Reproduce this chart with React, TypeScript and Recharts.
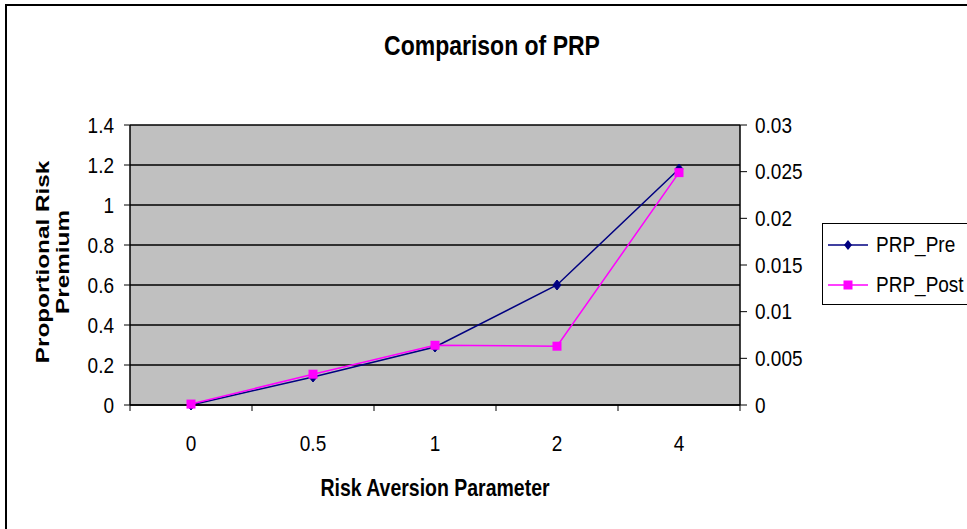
import React from "react";
import { LineChart, Line, XAxis, YAxis, CartesianGrid } from "recharts";

const categories = ["0", "0.5", "1", "2", "4"];
const prpPre = [0, 0.14, 0.29, 0.6, 1.18];
const prpPost = [0.0001, 0.0033, 0.0064, 0.0063, 0.0249];
const leftTicks = [0, 0.2, 0.4, 0.6, 0.8, 1, 1.2, 1.4];
const rightTicks = [0, 0.005, 0.01, 0.015, 0.02, 0.025, 0.03];
const xTicks = [0, 0.5, 1, 1.5, 2, 2.5, 3, 3.5, 4, 4.5, 5];

const FONT = '"Liberation Sans", Arial, sans-serif';
const PRE_COLOR = "#000080";
const POST_COLOR = "#FF00FF";
const STRETCH = 1.15; // the source image is a bit taller than wide

// categories sit in the middle of each slot, tick marks between them (Excel style)
const data = categories.map((c, i) => ({
  x: i + 0.5,
  name: c,
  pre: prpPre[i],
  post: prpPost[i],
}));

const XTick = ({ x, y, payload }: any) => {
  const v = payload.value;
  if (Number.isInteger(v)) {
    return <line x1={x} x2={x} y1={y} y2={y + 6} stroke="#000" strokeWidth={1} />;
  }
  return (
    <g transform={`translate(${x},${y + 46}) scale(1,${STRETCH})`}>
      <text x={0} y={0} textAnchor="middle" fontSize={19} fontFamily={FONT} fill="#000">
        {categories[Math.floor(v)]}
      </text>
    </g>
  );
};

const YTick = ({ x, y, payload, textAnchor }: any) => (
  <g transform={`translate(${x},${y}) scale(1,${STRETCH})`}>
    <text x={0} y={0} dy="0.355em" textAnchor={textAnchor} fontSize={19} fontFamily={FONT} fill="#000">
      {String(payload.value)}
    </text>
  </g>
);

const Diamond = ({ cx, cy }: any) => {
  if (cx == null || cy == null) return null;
  return (
    <path
      d={`M${cx},${cy - 5} L${cx + 4},${cy} L${cx},${cy + 5} L${cx - 4},${cy} Z`}
      fill={PRE_COLOR}
      stroke={PRE_COLOR}
    />
  );
};

const Square = ({ cx, cy }: any) => {
  if (cx == null || cy == null) return null;
  return <rect x={cx - 4.5} y={cy - 4.5} width={9} height={9} fill={POST_COLOR} />;
};

export default function App() {
  return (
    <div
      style={{
        position: "absolute",
        left: 0,
        top: 0,
        width: 967,
        height: 529,
        overflow: "hidden",
        background: "#fff",
        fontFamily: FONT,
      }}
    >
      <div
        style={{
          position: "absolute",
          left: 5,
          top: 4,
          width: 1100,
          height: 700,
          borderLeft: "2px solid #000",
          borderTop: "2px solid #000",
        }}
      />
      <div style={{ position: "absolute", left: 0, top: 0 }}>
        <LineChart
          width={967}
          height={529}
          data={data}
          margin={{ top: 125, right: 0, bottom: 64, left: 0 }}
        >
          <CartesianGrid
            yAxisId="left"
            vertical={false}
            fill="#C0C0C0"
            fillOpacity={1}
            stroke="#000"
            strokeWidth={1.5}
          />
          <XAxis
            type="number"
            dataKey="x"
            domain={[0, 5]}
            ticks={xTicks}
            interval={0}
            tick={<XTick />}
            tickLine={false}
            tickSize={0}
            tickMargin={0}
            height={60}
            axisLine={{ stroke: "#000", strokeWidth: 1.5 }}
          />
          <YAxis
            yAxisId="left"
            domain={[0, 1.4]}
            ticks={leftTicks}
            interval={0}
            width={130}
            tickSize={6}
            tickMargin={10}
            tick={<YTick />}
            tickLine={{ stroke: "#000" }}
            axisLine={{ stroke: "#000", strokeWidth: 1.5 }}
          />
          <YAxis
            yAxisId="right"
            orientation="right"
            domain={[0, 0.03]}
            ticks={rightTicks}
            interval={0}
            width={227}
            tickSize={7}
            tickMargin={8}
            tick={<YTick />}
            tickLine={{ stroke: "#000" }}
            axisLine={{ stroke: "#000", strokeWidth: 1.5 }}
          />
          <Line
            yAxisId="left"
            type="linear"
            dataKey="pre"
            stroke={PRE_COLOR}
            strokeWidth={1.5}
            dot={<Diamond />}
            isAnimationActive={false}
          />
          <Line
            yAxisId="right"
            type="linear"
            dataKey="post"
            stroke={POST_COLOR}
            strokeWidth={1.5}
            dot={<Square />}
            isAnimationActive={false}
          />
        </LineChart>
      </div>
      <svg
        width={967}
        height={529}
        style={{ position: "absolute", left: 0, top: 0, pointerEvents: "none" }}
      >
        <g transform="translate(492,55) scale(1,1.2)">
          <text x={0} y={0} textAnchor="middle" fontSize={23} fontWeight="bold" fontFamily={FONT}>
            Comparison of PRP
          </text>
        </g>
        <g transform="translate(435,496) scale(1,1.2)">
          <text x={0} y={0} textAnchor="middle" fontSize={19.5} fontWeight="bold" fontFamily={FONT}>
            Risk Aversion Parameter
          </text>
        </g>
        <g transform="translate(49,262) rotate(-90) scale(1.35,1)">
          <text x={0} y={0} textAnchor="middle" fontSize={18} fontWeight="bold" fontFamily={FONT}>
            Proportional  Risk
          </text>
          <text x={0} y={20} textAnchor="middle" fontSize={18} fontWeight="bold" fontFamily={FONT}>
            Premium
          </text>
        </g>
      </svg>
      <div
        style={{
          position: "absolute",
          left: 822,
          top: 223,
          width: 200,
          height: 80,
          border: "1px solid #000",
          background: "#fff",
        }}
      >
        {[
          { label: "PRP_Pre", color: PRE_COLOR, shape: "diamond" },
          { label: "PRP_Post", color: POST_COLOR, shape: "square" },
        ].map((item, i) => (
          <div
            key={item.label}
            style={{
              position: "absolute",
              left: 5,
              top: 8 + i * 40,
              height: 26,
              display: "flex",
              alignItems: "center",
              fontSize: 19,
              whiteSpace: "nowrap",
            }}
          >
            <svg width={42} height={20}>
              <line x1={0} x2={40} y1={10} y2={10} stroke={item.color} strokeWidth={1.5} />
              {item.shape === "diamond" ? (
                <path d="M20,5 L24,10 L20,15 L16,10 Z" fill={item.color} />
              ) : (
                <rect x={15.5} y={5.5} width={9} height={9} fill={item.color} />
              )}
            </svg>
            <span style={{ marginLeft: 6, display: "inline-block", transform: `scaleY(${STRETCH})` }}>
              {item.label}
            </span>
          </div>
        ))}
      </div>
    </div>
  );
}
